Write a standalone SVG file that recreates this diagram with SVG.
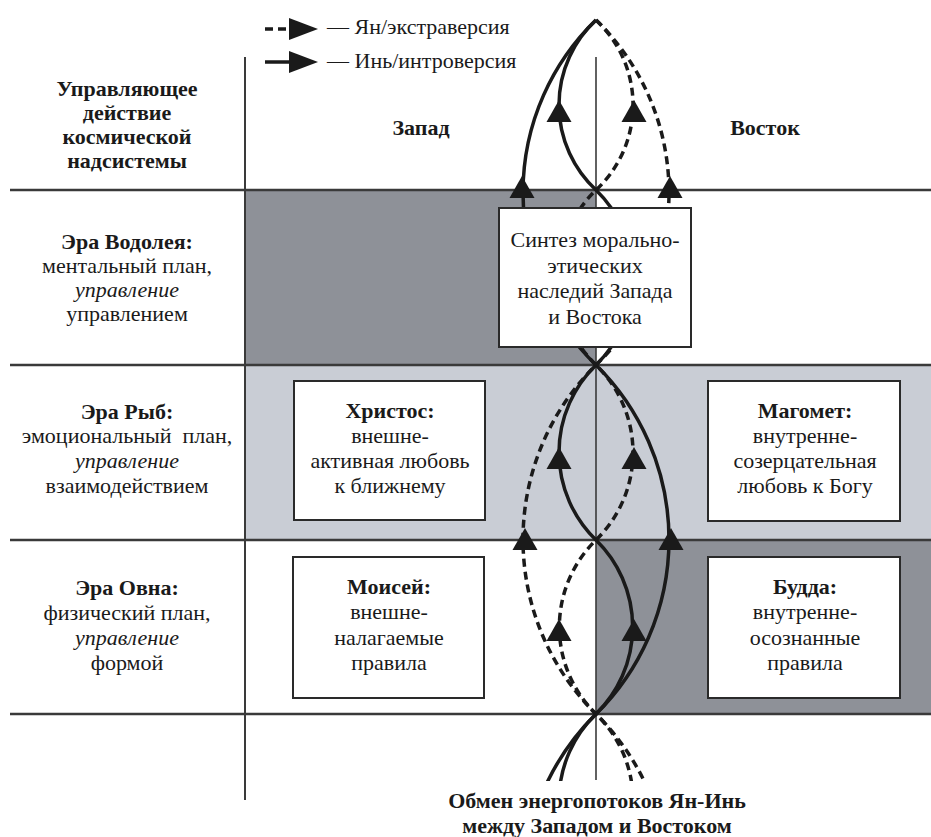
<svg xmlns="http://www.w3.org/2000/svg" xmlns:xlink="http://www.w3.org/1999/xlink" width="931" height="837" viewBox="0 0 931 837" font-family="Liberation Serif, serif">
<style>
text{font-size:22px;fill:#1a1a1a;text-anchor:middle}
.b{font-weight:bold}
.i{font-style:italic}
.st{text-anchor:start}
.grid{stroke:#3a3a3a;fill:none}
.box{fill:#fff;stroke:#2a2a2a;stroke-width:2}
.cur{fill:none;stroke:#1a1a1a;stroke-width:3.5}
.dash{stroke-dasharray:8 5}
.ar{fill:#1a1a1a}
</style>
<defs>
<path id="tri" d="M0,-8 L12.5,14 L-12.5,14 Z"/>
<clipPath id="clipb"><rect x="0" y="0" width="931" height="781"/></clipPath>
</defs>
<rect width="931" height="837" fill="#fff"/>
<g id="fills">
<rect x="245" y="190" width="351" height="175" fill="#8e9198"/>
<rect x="245" y="365" width="686" height="175" fill="#c9cdd5"/>
<rect x="596" y="540" width="335" height="174" fill="#8e9198"/>
</g>
<g id="grid" class="grid">
<line x1="10" y1="190" x2="931" y2="190" stroke-width="2.5"/>
<line x1="10" y1="365" x2="931" y2="365" stroke-width="2.5"/>
<line x1="10" y1="540" x2="931" y2="540" stroke-width="2.5"/>
<line x1="10" y1="714" x2="931" y2="714" stroke-width="2.5"/>
<line x1="245" y1="57" x2="245" y2="800" stroke-width="2"/>
<line x1="596" y1="57" x2="596" y2="780" stroke-width="1.6"/>
</g>
<g id="legend">
<line x1="265" y1="29" x2="292" y2="29" class="cur dash" stroke-width="4.5"/>
<path class="ar" d="M289,18 L318,29 L289,40 Z"/>
<line x1="265" y1="62" x2="292" y2="62" class="cur" stroke-width="4.5"/>
<path class="ar" d="M289,51 L318,62 L289,73 Z"/>
<text x="327" y="34" class="st">— Ян/экстраверсия</text>
<text x="327" y="68" class="st">— Инь/интроверсия</text>
</g>
<g id="connectors" clip-path="url(#clipb)">
<path class="cur" d="M596,20 A240.3,240.3 0 0 0 596,365 A245.1,245.1 0 0 1 596,714 A245.1,245.1 0 0 0 596,1063"/>
<path class="cur dash" d="M596,20 A240.3,240.3 0 0 1 596,365 A245.1,245.1 0 0 0 596,714 A245.1,245.1 0 0 1 596,1063"/>
<path class="cur" d="M596,20 A116.1,116.1 0 0 0 596,190 A122,122 0 0 1 596,365 A122,122 0 0 0 596,540 A121.6,121.6 0 0 1 596,714 A120.8,120.8 0 0 0 596,888"/>
<path class="cur dash" d="M596,20 A116.1,116.1 0 0 1 596,190 A122,122 0 0 0 596,365 A122,122 0 0 1 596,540 A121.6,121.6 0 0 0 596,714 A120.8,120.8 0 0 1 596,888"/>
<g class="ar">
<use xlink:href="#tri" x="522" y="184"/>
<use xlink:href="#tri" x="670" y="184"/>
<use xlink:href="#tri" x="559" y="108"/>
<use xlink:href="#tri" x="634" y="108"/>
<use xlink:href="#tri" x="559" y="455"/>
<use xlink:href="#tri" x="634" y="455"/>
<use xlink:href="#tri" x="525" y="536"/>
<use xlink:href="#tri" x="671" y="536"/>
<use xlink:href="#tri" x="559" y="627"/>
<use xlink:href="#tri" x="634" y="627"/>
</g>
</g>
<g id="mohammed">
<rect class="box" x="708" y="381" width="192" height="140"/>
<text x="805" y="418" class="b">Магомет:</text>
<text x="805" y="443">внутренне-</text>
<text x="805" y="468">созерцательная</text>
<text x="805" y="493">любовь к Богу</text>
</g>
<g id="moses">
<rect class="box" x="293" y="557" width="191" height="141"/>
<text x="389" y="594" class="b">Моисей:</text>
<text x="389" y="619">внешне-</text>
<text x="389" y="645">налагаемые</text>
<text x="389" y="670">правила</text>
</g>
<g id="buddha">
<rect class="box" x="708" y="557" width="192" height="141"/>
<text x="805" y="594" class="b">Будда:</text>
<text x="805" y="619">внутренне-</text>
<text x="805" y="645">осознанные</text>
<text x="805" y="670">правила</text>
</g>
<g id="caption">
<text x="597" y="808" class="b">Обмен энергопотоков Ян-Инь</text>
<text x="597" y="833" class="b">между Западом и Востоком</text>
</g>
<g id="synthesis">
<rect class="box" x="499" y="208" width="192" height="139"/>
<text x="595" y="247">Синтез морально-</text>
<text x="595" y="272.5">этических</text>
<text x="595" y="298">наследий Запада</text>
<text x="595" y="323.5">и Востока</text>
</g>
<g id="christ">
<rect class="box" x="294" y="381" width="191" height="139"/>
<text x="390" y="418" class="b">Христос:</text>
<text x="390" y="443">внешне-</text>
<text x="390" y="468">активная любовь</text>
<text x="390" y="493">к ближнему</text>
</g>
<g id="headers">
<text x="127" y="96" class="b">Управляющее</text>
<text x="127" y="120" class="b">действие</text>
<text x="127" y="144" class="b">космической</text>
<text x="127" y="168" class="b">надсистемы</text>
<text x="421" y="135" class="b">Запад</text>
<text x="765" y="135" class="b">Восток</text>
</g>
<g id="era-aquarius">
<text x="127" y="249" class="b">Эра Водолея:</text>
<text x="127" y="273">ментальный план,</text>
<text x="127" y="297" class="i">управление</text>
<text x="127" y="321">управлением</text>
</g>
<g id="era-pisces">
<text x="127" y="419" class="b">Эра Рыб:</text>
<text x="127" y="443" xml:space="preserve">эмоциональный  план,</text>
<text x="127" y="468" class="i">управление</text>
<text x="127" y="493">взаимодействием</text>
</g>
<g id="era-aries">
<text x="127" y="595" class="b">Эра Овна:</text>
<text x="127" y="620">физический план,</text>
<text x="127" y="645" class="i">управление</text>
<text x="127" y="670">формой</text>
</g>
</svg>
